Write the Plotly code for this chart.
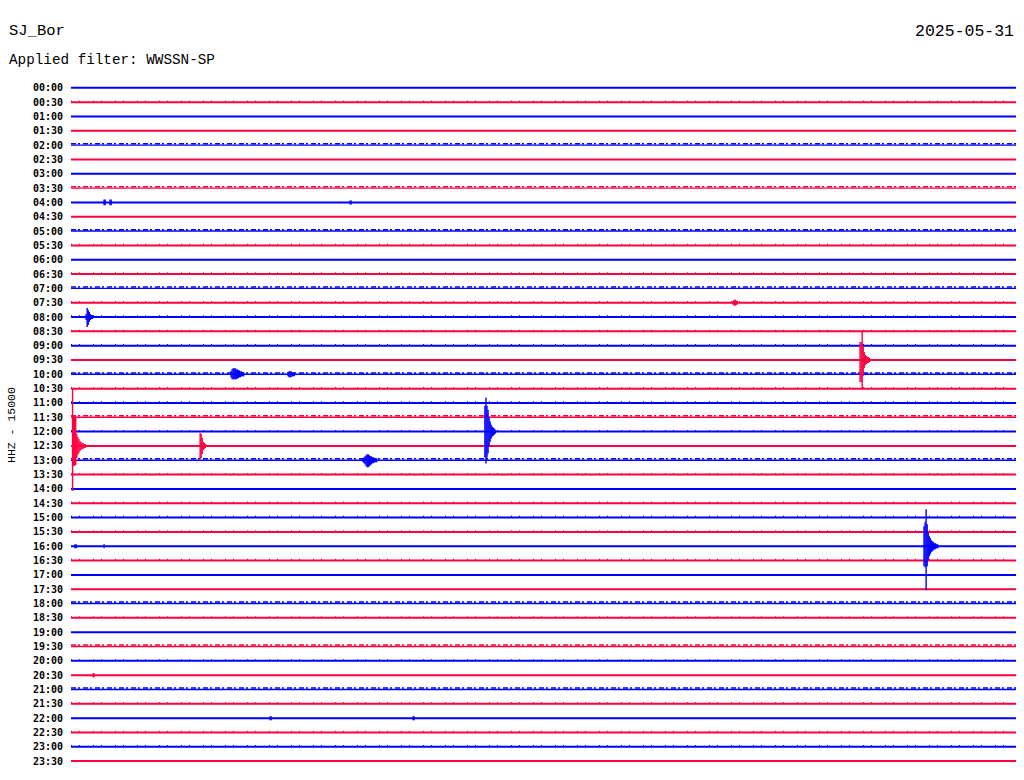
import plotly.graph_objects as go

# ---------------- data ----------------
STATION = "SJ_Bor"
DATE = "2025-05-31"
FILTER_TEXT = "Applied filter: WWSSN-SP"
CHANNEL_LABEL = "HHZ - 15000"
COUNTS_PER_LINE = 15000          # counts per line spacing
MINUTES_PER_LINE = 30
SAMPLE_STEP_MIN = 2.0 / 60.0     # envelope samples every 2 s

line_labels = [
    "00:00", "00:30", "01:00", "01:30", "02:00", "02:30", "03:00", "03:30",
    "04:00", "04:30", "05:00", "05:30", "06:00", "06:30", "07:00", "07:30",
    "08:00", "08:30", "09:00", "09:30", "10:00", "10:30", "11:00", "11:30",
    "12:00", "12:30", "13:00", "13:30", "14:00", "14:30", "15:00", "15:30",
    "16:00", "16:30", "17:00", "17:30", "18:00", "18:30", "19:00", "19:30",
    "20:00", "20:30", "21:00", "21:30", "22:00", "22:30", "23:00", "23:30",
]

# background noise level per line (counts), read visually: 0 quiet, 1000 light, 2000 noisy
noise_counts = [
    0, 1000, 0, 0, 2000, 0, 0, 2000,
    0, 0, 2000, 1000, 0, 1000, 2000, 1000,
    1000, 1000, 1000, 0, 2000, 1000, 1000, 2000,
    1000, 0, 2000, 1000, 0, 1000, 1000, 1000,
    0, 1000, 0, 0, 2000, 1000, 0, 2000,
    1000, 0, 2000, 1000, 0, 1000, 1000, 0,
]

# events: line index, onset (minutes into the line), envelope up / down (counts)
event_line = [25, 25, 24, 19, 32, 16, 20, 20, 26, 15, 8, 8, 8, 32, 32, 41, 44, 44]
event_onset_min = [0.05, 4.10, 13.14, 25.05, 27.08, 0.48, 5.08, 6.89, 9.27, 21.02,
                   1.05, 1.24, 8.86, 0.13, 1.05, 0.70, 6.32, 10.86]
event_up_counts = [
    [59700, 31400, 31400, 29300, 12600, 9400, 7300, 5200, 4200, 3100, 3100, 2100, 2100],
    [13600, 12600, 8400, 4200, 3100, 2100],
    [27200, 35600, 27200, 23000, 15700, 10500, 7300, 5200, 4200, 3100, 2100],
    [18800, 18800, 29300, 14700, 8400, 5200, 4200, 3100, 3100, 2100],
    [20900, 25100, 38700, 23000, 14700, 10500, 8400, 6300, 5200, 4200, 3100, 3100, 2100, 2100],
    [3100, 9400, 7300, 5200, 3100, 2100, 2100],
    [3100, 5200, 6300, 6300, 6300, 5200, 5200, 4200, 4200, 3100, 3100, 2100, 2100],
    [2100, 3100, 3100, 3100, 2100, 2100, 2100],
    [2100, 3100, 4200, 5200, 6300, 6300, 5200, 4200, 4200, 3100, 3100, 2100, 2100, 2100],
    [2100, 3100, 3100, 2100, 2100],
    [3100, 3100],
    [3100, 3100],
    [2100, 2100],
    [2100, 2100],
    [2100],
    [2100, 2100],
    [2100, 2100],
    [2100, 2100],
]
event_down_counts = [
    [47100, 20900, 20900, 19900, 12600, 9400, 7300, 5200, 4200, 3100, 3100, 2100, 2100],
    [13600, 12600, 8400, 4200, 3100, 2100],
    [27200, 33500, 27200, 23000, 15700, 10500, 7300, 5200, 4200, 3100, 2100],
    [23000, 23000, 29300, 16800, 8400, 5200, 4200, 3100, 3100, 2100],
    [20900, 22000, 46100, 20900, 14700, 10500, 8400, 6300, 5200, 4200, 3100, 3100, 2100, 2100],
    [3100, 10500, 8400, 5200, 3100, 2100, 2100],
    [3100, 5200, 5200, 5200, 5200, 5200, 4200, 4200, 3100, 3100, 2100, 2100, 2100],
    [2100, 3100, 3100, 3100, 2100, 2100, 2100],
    [2100, 3100, 4200, 6300, 7300, 7300, 6300, 5200, 4200, 3100, 3100, 2100, 2100, 2100],
    [2100, 3100, 3100, 2100, 2100],
    [3100, 3100],
    [3100, 3100],
    [2100, 2100],
    [2100, 2100],
    [2100],
    [2100, 2100],
    [2100, 2100],
    [2100, 2100],
]

# ---------------- style / layout ----------------
BLUE = "#0000ff"
RED = "#ff0040"
W, H = 1024, 780
ML, MR, MT, MB = 71, 8, 60, 10
PW, PH = W - ML - MR, H - MT - MB
FIRST_LINE_PX, LINE_SPACING_PX = 87.8, 14.326
y_top = (MT - FIRST_LINE_PX) / LINE_SPACING_PX
y_bot = (H - MB - FIRST_LINE_PX) / LINE_SPACING_PX


def px_x(px):
    return (px - ML) / PW


def px_y(py):
    return 1 - (py - MT) / PH


fig = go.Figure()
n = len(line_labels)

# base traces grouped by colour and noise level
for color_idx, color in ((0, BLUE), (1, RED)):
    for lvl in (0, 1000, 2000):
        idxs = [i for i in range(n) if i % 2 == color_idx and noise_counts[i] == lvl]
        if not idxs:
            continue
        xs, ys = [], []
        for i in idxs:
            xs += [0, MINUTES_PER_LINE, None]
            ys += [-i, -i, None]
        fig.add_trace(go.Scatter(x=xs, y=ys, mode="lines",
                                 line=dict(color=color, width=2 if lvl < 2000 else 1.4),
                                 hoverinfo="skip", showlegend=False))
        if lvl > 0:
            # noise texture: dashed overlay just above the baseline
            off = lvl / COUNTS_PER_LINE * (0.75 if lvl >= 2000 else 1.0)
            xs2, ys2 = [], []
            for i in idxs:
                xs2 += [0, MINUTES_PER_LINE, None]
                ys2 += [-i + off, -i + off, None]
            dash = "5px,2px,2px,3px" if lvl >= 2000 else "1px,7px,1px,13px"
            fig.add_trace(go.Scatter(x=xs2, y=ys2, mode="lines",
                                     line=dict(color=color, width=1.5, dash=dash),
                                     hoverinfo="skip", showlegend=False))

# events drawn as min/max vertical segments
for color_idx, color in ((0, BLUE), (1, RED)):
    xs, ys = [], []
    for k, li in enumerate(event_line):
        if li % 2 != color_idx:
            continue
        for j, (u, d) in enumerate(zip(event_up_counts[k], event_down_counts[k])):
            t = event_onset_min[k] + j * SAMPLE_STEP_MIN
            xs += [t, t, None]
            ys += [-li + u / COUNTS_PER_LINE, -li - d / COUNTS_PER_LINE, None]
    fig.add_trace(go.Scatter(x=xs, y=ys, mode="lines",
                             line=dict(color=color, width=1.4),
                             hoverinfo="skip", showlegend=False))

MONO = "Liberation Mono, DejaVu Sans Mono, monospace"
annotations = [
    dict(text=STATION, x=px_x(7), y=px_y(31), xref="paper", yref="paper",
         xanchor="left", yanchor="middle", showarrow=False,
         font=dict(family=MONO, size=15.5, color="black")),
    dict(text=DATE, x=px_x(1016), y=px_y(31), xref="paper", yref="paper",
         xanchor="right", yanchor="middle", showarrow=False,
         font=dict(family=MONO, size=16.5, color="black")),
    dict(text=FILTER_TEXT, x=px_x(7), y=px_y(60), xref="paper", yref="paper",
         xanchor="left", yanchor="middle", showarrow=False,
         font=dict(family=MONO, size=14.3, color="black")),
    dict(text=CHANNEL_LABEL, x=px_x(11), y=px_y(425), xref="paper", yref="paper",
         xanchor="center", yanchor="middle", showarrow=False, textangle=-90,
         font=dict(family=MONO, size=11.5, color="black")),
]

fig.update_layout(
    width=W, height=H,
    margin=dict(l=ML, r=MR, t=MT, b=MB, pad=0),
    paper_bgcolor="white", plot_bgcolor="white",
    showlegend=False,
    annotations=annotations,
    xaxis=dict(range=[0, MINUTES_PER_LINE], visible=False, fixedrange=True),
    yaxis=dict(range=[-y_bot, -y_top], showgrid=False, zeroline=False,
               showline=False, ticks="", fixedrange=True,
               tickvals=[-i for i in range(n)], ticktext=line_labels,
               tickfont=dict(family="DejaVu Sans Mono", size=10, color="black",
                             weight="bold"),
               ticklabelstandoff=7),
)

fig.write_html("out.html", config={"displayModeBar": False},
               post_script="document.body.style.margin='0';")
